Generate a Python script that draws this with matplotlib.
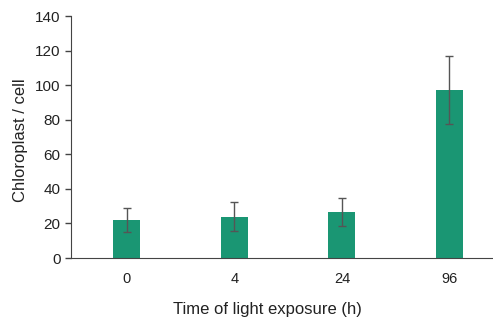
import matplotlib
matplotlib.use("Agg")
import matplotlib.pyplot as plt
import numpy as np

plt.rcParams['font.family'] = ['Liberation Sans', 'DejaVu Sans']

times = ["0", "4", "24", "96"]
chloroplasts = [22, 24, 26.5, 97]
errors = [7, 8.5, 8, 19.7]

fig = plt.figure(figsize=(4.93, 3.27), dpi=100)
ax = fig.add_axes([0.144, 0.211, 0.87, 0.74])

x = np.arange(len(times))
ax.bar(x, chloroplasts, width=0.25, color="#1a9673",
       yerr=errors, error_kw=dict(ecolor="#555555", elinewidth=1, capsize=3, capthick=1))

ax.set_xlim(-0.52, 3.47)
ax.set_ylim(0, 140)
ax.set_yticks(range(0, 141, 20))
ax.set_xticks(x)
ax.set_xticklabels(times)
ax.tick_params(axis="x", length=0, pad=10, labelsize=10.5, colors="#222222")
ax.tick_params(axis="y", length=4, width=1, labelsize=11, colors="#222222", color="#444444")
for s in ["top", "right"]:
    ax.spines[s].set_visible(False)
ax.spines["left"].set_color("#444444")
ax.spines["bottom"].set_color("#444444")
ax.set_ylabel("Chloroplast / cell", fontsize=12, color="#222222")
ax.set_xlabel("Time of light exposure (h)", fontsize=12, color="#222222")
ax.yaxis.set_label_coords(-0.1, 0.485)
ax.xaxis.set_label_coords(0.459, -0.18)

fig.savefig("out.png", dpi=100)
